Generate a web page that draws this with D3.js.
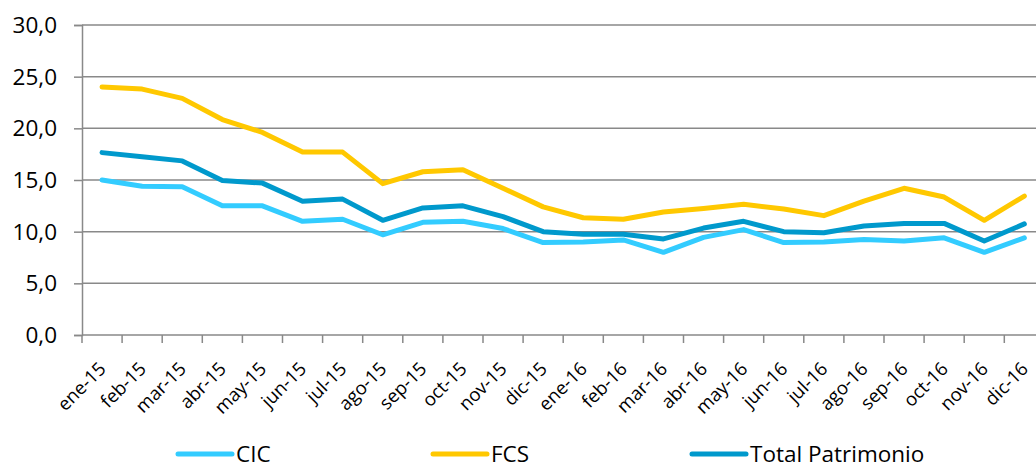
<!DOCTYPE html>
<html>
<head>
<meta charset="utf-8">
<script src="https://d3js.org/d3.v7.min.js"></script>
<style>
  body { margin: 0; background: #fff; }
  text { font-family: "Open Sans", Lato, sans-serif; fill: #000; }
</style>
</head>
<body>
<div id="chart"></div>
<script>
const months = ["ene-15","feb-15","mar-15","abr-15","may-15","jun-15","jul-15","ago-15","sep-15","oct-15","nov-15","dic-15",
                "ene-16","feb-16","mar-16","abr-16","may-16","jun-16","jul-16","ago-16","sep-16","oct-16","nov-16","dic-16"];
const cic   = [15.0,14.4,14.35,12.5,12.5,11.0,11.2,9.7,10.9,11.0,10.3,8.95,9.0,9.2,8.0,9.45,10.2,8.95,9.0,9.25,9.1,9.4,8.0,9.4];
const fcs   = [24.0,23.8,22.9,20.85,19.6,17.7,17.7,14.65,15.8,16.0,14.2,12.4,11.35,11.2,11.9,12.25,12.65,12.2,11.55,12.95,14.2,13.35,11.1,13.45];
const total = [17.65,17.25,16.85,14.95,14.7,12.95,13.15,11.1,12.3,12.5,11.45,10.0,9.75,9.75,9.3,10.35,11.0,10.0,9.9,10.55,10.8,10.8,9.1,10.75];
const yTicks = [0,5,10,15,20,25,30];
const seriesNames = ["CIC","FCS","Total Patrimonio"];
const seriesColors = ["#33CCFF","#FFC800","#0099CC"];

const W = 1036, H = 464;
const mLeft = 82, mTop = 25, mBottom = 335, step = 40.1;

const svg = d3.select("#chart").append("svg")
    .attr("width", W).attr("height", H);

const x = d3.scaleBand().domain(months).range([mLeft, mLeft + step * months.length]);
const y = d3.scaleLinear().domain([0, 30]).range([mBottom, mTop]);

// gridlines
svg.append("g").selectAll("line")
    .data(yTicks.filter(d => d > 0))
    .join("line")
    .attr("x1", mLeft).attr("x2", x.range()[1])
    .attr("y1", d => y(d)).attr("y2", d => y(d))
    .attr("stroke", "#898989").attr("stroke-width", 1.5);

// y axis
const yAxis = svg.append("g")
    .attr("transform", "translate(" + mLeft + ",0)")
    .call(d3.axisLeft(y).tickValues(yTicks).tickSize(8).tickPadding(17)
        .tickFormat(d => d3.format(".1f")(d).replace(".", ",")));
yAxis.select(".domain").attr("stroke", "#898989").attr("stroke-width", 1.5);
yAxis.selectAll(".tick line").attr("stroke", "#898989").attr("stroke-width", 1.5);
yAxis.selectAll("text").style("font-size", "22.5px").style("font-family", "'Open Sans'").attr("dy", "0.34em");

// x axis
const xg = svg.append("g");
xg.append("line")
    .attr("x1", mLeft).attr("x2", x.range()[1])
    .attr("y1", mBottom).attr("y2", mBottom)
    .attr("stroke", "#898989").attr("stroke-width", 1.5);
xg.selectAll(".tk")
    .data(months)
    .join("line")
    .attr("class", "tk")
    .attr("x1", d => x(d)).attr("x2", d => x(d))
    .attr("y1", mBottom).attr("y2", mBottom + 8)
    .attr("stroke", "#898989").attr("stroke-width", 1.5);
xg.selectAll(".lbl")
    .data(months)
    .join("text")
    .attr("class", "lbl")
    .attr("text-anchor", "end")
    .style("font-size", "18.5px")
    .attr("transform", d => "translate(" + (x(d) + x.bandwidth() / 2 + 5) + "," + (mBottom + 35) + ") rotate(-45)")
    .text(d => d);

// lines
const line = d3.line()
    .x((d, i) => x(months[i]) + x.bandwidth() / 2)
    .y(d => y(d));

[cic, fcs, total].forEach((vals, k) => {
    svg.append("path")
        .datum(vals)
        .attr("fill", "none")
        .attr("stroke", seriesColors[k])
        .attr("stroke-width", 5)
        .attr("stroke-linejoin", "round")
        .attr("stroke-linecap", "round")
        .attr("d", line);
});

// legend
const legendX = [178, 433, 692];
const lg = svg.append("g").selectAll("g")
    .data(seriesNames)
    .join("g")
    .attr("transform", (d, i) => "translate(" + legendX[i] + ",454)");
lg.append("line")
    .attr("x1", 0).attr("x2", 54).attr("y1", 0).attr("y2", 0)
    .attr("stroke", (d, i) => seriesColors[i])
    .attr("stroke-width", 5).attr("stroke-linecap", "round");
lg.append("text")
    .attr("x", 58).attr("y", 7.5)
    .style("font-size", "22.5px")
    .text(d => d);
</script>
</body>
</html>
